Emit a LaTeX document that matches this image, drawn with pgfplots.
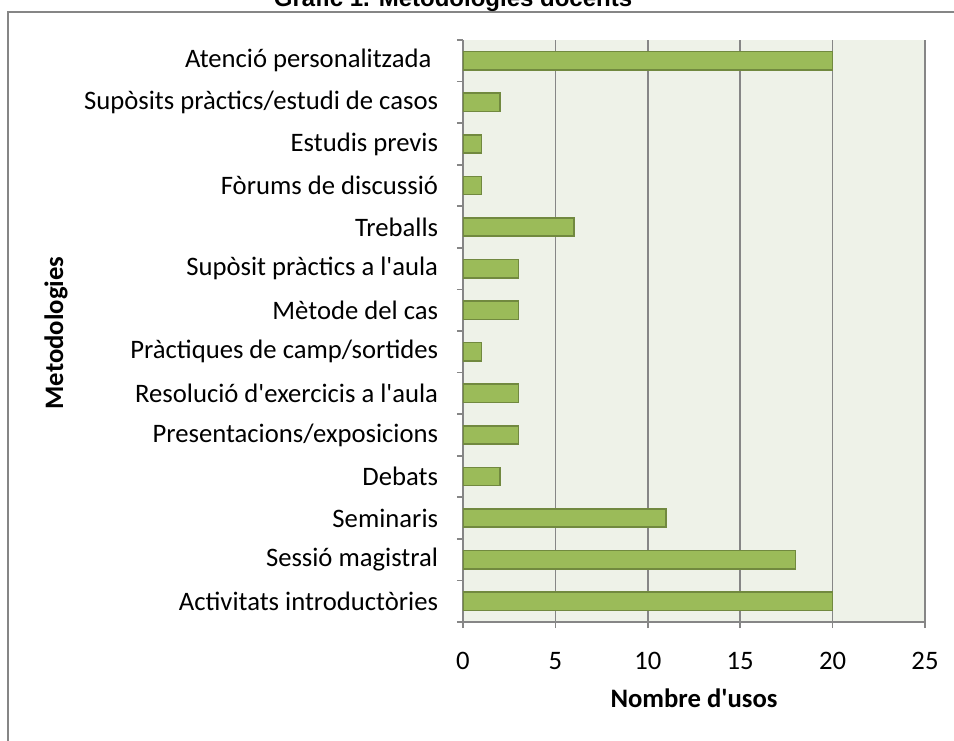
\documentclass[border=0pt]{standalone}
\usepackage{fontspec}
\setmainfont{Carlito}[Ligatures=TeXOff]
\newfontfamily\titlefont{Liberation Sans}[Ligatures=TeXOff]
\usepackage{pgfplots}
\pgfplotsset{compat=1.18}
\definecolor{barfill}{RGB}{155,187,89}
\definecolor{baredge}{RGB}{113,137,63}
\definecolor{bgcol}{RGB}{238,242,232}
\definecolor{gridc}{RGB}{134,134,134}
\begin{document}
\begin{tikzpicture}[x=0.75pt,y=0.75pt]
\useasboundingbox (0,0) rectangle (954,740);
\draw[gridc, line width=1.5pt] (8,-5) -- (8,728) -- (960,728);
\node[font=\titlefont\bfseries\fontsize{18}{20}\selectfont, anchor=base] at (453,733) {Gràfic 1. Metodologies docents};
\begin{axis}[
  at={(347.25pt,88.5pt)}, anchor=south west,
  scale only axis, width=346.5pt, height=436.5pt,
  xbar, bar width=0.44,
  xmin=0, xmax=25, ymin=-0.5, ymax=13.5,
  axis x line=bottom, axis y line=left,
  axis line style={-, gridc, line width=1.5pt},
  axis background/.style={fill=bgcol},
  xtick={0,5,...,25}, xmajorgrids,
  major grid style={gridc, line width=1.2pt},
  ytick={0,...,13},
  yticklabels={Activitats introductòries, Sessió magistral, Seminaris, Debats, Presentacions/exposicions, Resolució d'exercicis a l'aula, Pràctiques de camp/sortides, Mètode del cas, Supòsit pràctics a l'aula, Treballs, Fòrums de discussió, Estudis previs, Supòsits pràctics/estudi de casos, {Atenció personalitzada\kern5pt}},
  minor ytick={-0.5,0.5,...,13.5},
  tick align=outside,
  major tick length=4.5pt, minor tick length=4.5pt,
  major y tick style={draw=none},
  minor y tick style={gridc, line width=1.2pt},
  major x tick style={gridc, line width=1.2pt},
  /pgf/number format/assume math mode=true,
  ticklabel style={font=\fontsize{20}{24}\selectfont},
  yticklabel style={anchor=east, inner sep=0pt, xshift=-14pt},
  xticklabel style={anchor=north, inner sep=0pt, yshift=-18pt},
]
\addplot[fill=barfill, draw=baredge, line width=1.2pt] coordinates {
(20,0) (18,1) (11,2) (2,3) (3,4) (3,5) (1,6) (3,7) (3,8) (6,9) (1,10) (1,11) (2,12) (20,13)
};
\end{axis}
\node[font=\bfseries\fontsize{20}{24}\selectfont] at (694,42) {Nombre d'usos};
\node[rotate=90, font=\bfseries\fontsize{20}{24}\selectfont] at (56,407) {Metodologies};
\end{tikzpicture}
\end{document}
